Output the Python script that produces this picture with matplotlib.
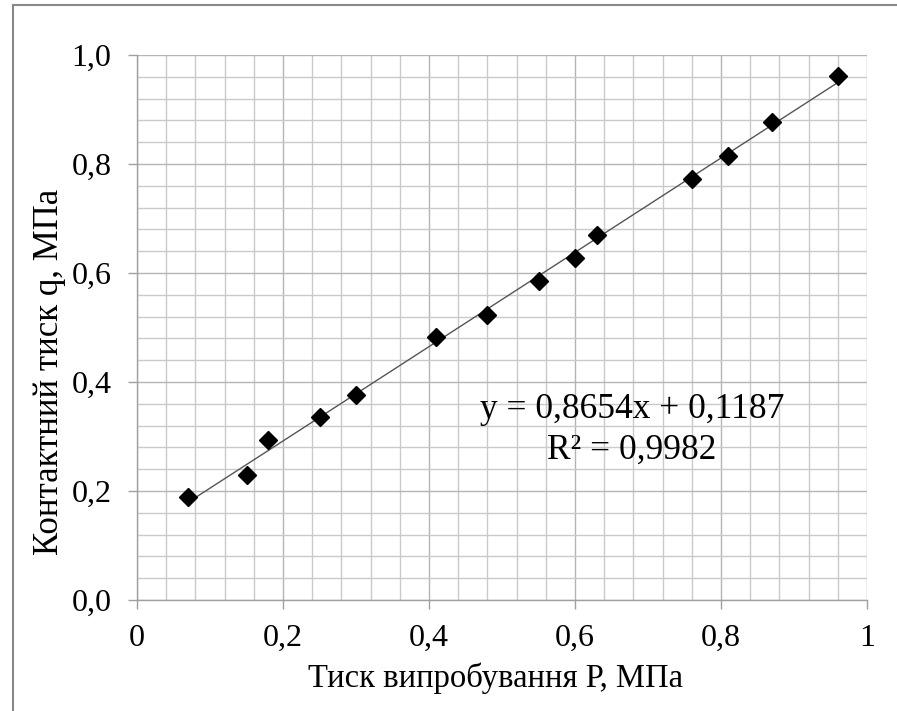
import numpy as np
import matplotlib
matplotlib.use("Agg")
import matplotlib.pyplot as plt
from matplotlib.ticker import MultipleLocator, FixedLocator
from matplotlib.lines import Line2D

# data
P = [0.07, 0.15, 0.18, 0.25, 0.30, 0.41, 0.48, 0.55, 0.60, 0.63, 0.76, 0.81, 0.87, 0.96]
q = [0.189, 0.229, 0.294, 0.336, 0.376, 0.483, 0.523, 0.585, 0.628, 0.670, 0.772, 0.815, 0.877, 0.961]
slope, intercept = 0.8654, 0.1187
x_ticks = [0, 0.2, 0.4, 0.6, 0.8, 1.0]
x_labels = ["0", "0,2", "0,4", "0,6", "0,8", "1"]
y_ticks = [0, 0.2, 0.4, 0.6, 0.8, 1.0]
y_labels = ["0,0", "0,2", "0,4", "0,6", "0,8", "1,0"]

plt.rcParams['font.family'] = ['Liberation Serif', 'DejaVu Serif']

fig = plt.figure(figsize=(8.97, 7.11), dpi=100)
ax = fig.add_axes([137/897, 1 - 600/711, 730/897, 545/711])

# grid
ax.xaxis.set_minor_locator(MultipleLocator(0.04))
ax.yaxis.set_minor_locator(MultipleLocator(0.04))
ax.grid(which='minor', color='#cacaca', linewidth=1.0)
ax.grid(which='major', color='#b4b4b4', linewidth=1.0)
ax.set_axisbelow(True)

# trend line
xs = np.array([min(P), max(P)])
ax.plot(xs, slope * xs + intercept, color='#555555', linewidth=1.0)
ax.plot(P, q, linestyle='none', marker='D', markersize=9, color='black')

ax.set_xlim(0, 1)
ax.set_ylim(0, 1)
ax.xaxis.set_major_locator(FixedLocator(x_ticks))
ax.yaxis.set_major_locator(FixedLocator(y_ticks))
ax.set_xticklabels(x_labels)
ax.set_yticklabels(y_labels)
ax.tick_params(which='major', length=6.5, width=1, color='#a0a0a0', labelsize=23, direction='out')
ax.tick_params(axis='y', pad=12)
ax.tick_params(axis='x', pad=11)
ax.tick_params(which='minor', length=0)

for side in ['top', 'right']:
    ax.spines[side].set_visible(False)
for side in ['left', 'bottom']:
    ax.spines[side].set_color('#a0a0a0')
    ax.spines[side].set_linewidth(1.0)

# axis titles placed like the original
fig.text(495/897, 1 - 678/711, "Тиск випробування Р, МПа", fontsize=23.5,
         ha='center', va='center')
fig.text(50/897, 1 - 372/711, "Контактний тиск q, МПа", fontsize=25,
         ha='center', va='center', rotation=90)

ax.text(0.678, 0.312, "y = 0,8654x + 0,1187\nR² = 0,9982", fontsize=25.5,
        ha='center', va='center', linespacing=1.3)

# outer frame
fig.add_artist(Line2D([13/897, 13/897], [0, 1 - 5/711], color='#888888', linewidth=1.5))
fig.add_artist(Line2D([13/897, 1], [1 - 5/711, 1 - 5/711], color='#888888', linewidth=1.5))

fig.savefig("out.png", dpi=100)
